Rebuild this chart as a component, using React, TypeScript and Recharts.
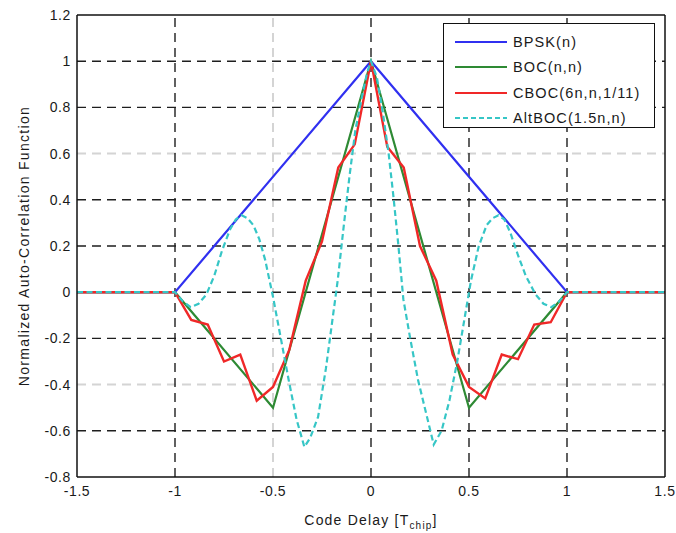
import React from 'react';
import { LineChart, Line, XAxis, YAxis, ReferenceLine, Legend } from 'recharts';

// axis ticks
const xTicks = [-1.5, -1, -0.5, 0, 0.5, 1, 1.5];
const yTicks = [-0.8, -0.6, -0.4, -0.2, 0, 0.2, 0.4, 0.6, 0.8, 1, 1.2];
// dashed grid, two of each come out pale in the original
const gridX = [-1, 0, 0.5, 1];
const paleGridX = [-0.5];
const gridY = [-0.6, -0.2, 0, 0.2, 0.4, 0.8, 1];
const paleGridY = [-0.4, 0.6];

const seriesNames = ['BPSK(n)', 'BOC(n,n)', 'CBOC(6n,n,1/11)', 'AltBOC(1.5n,n)'];

const bpskX = [-1.5, -1, 0, 1, 1.5];
const bpskY = [0, 0, 1, 0, 0];

const bocX = [-1.5, -1, -0.5, 0, 0.5, 1, 1.5];
const bocY = [0, 0, -0.5, 1, -0.5, 0, 0];

const cbocX = [
  -1.5, -1, -0.917, -0.833, -0.75, -0.667, -0.583, -0.5, -0.417, -0.333, -0.25, -0.167, -0.083,
  0, 0.083, 0.167, 0.25, 0.333, 0.417, 0.5, 0.583, 0.667, 0.75, 0.833, 0.917, 1, 1.5,
];
const cbocY = [
  0, 0, -0.12, -0.14, -0.3, -0.27, -0.47, -0.41, -0.25, 0.05, 0.22, 0.54, 0.64,
  1, 0.63, 0.54, 0.2, 0.05, -0.27, -0.41, -0.46, -0.27, -0.29, -0.14, -0.13, 0, 0,
];

const altbocX = [
  -1.5, -1, -0.96, -0.92, -0.88, -0.84, -0.8, -0.76, -0.72, -0.69, -0.66, -0.63, -0.6, -0.57, -0.54,
  -0.5, -0.46, -0.42, -0.38, -0.34, -0.31, -0.27, -0.23, -0.2, -0.17, -0.14, -0.11, -0.08,
  -0.05, -0.02, 0, 0.03, 0.06, 0.09, 0.115, 0.14, 0.165, 0.2, 0.24, 0.28, 0.32, 0.36, 0.4,
  0.44, 0.48, 0.51, 0.55, 0.59, 0.62, 0.65, 0.68, 0.71, 0.75, 0.79, 0.84, 0.88, 0.92, 0.96, 1, 1.5,
];
const altbocY = [
  0, 0, -0.04, -0.065, -0.05, -0.01, 0.07, 0.18, 0.27, 0.315, 0.333, 0.32, 0.29, 0.23, 0.14,
  -0.02, -0.2, -0.38, -0.55, -0.67, -0.63, -0.54, -0.33, -0.14, 0.05, 0.28, 0.5, 0.7,
  0.83, 0.95, 1, 0.93, 0.78, 0.6, 0.41, 0.2, -0.03, -0.2, -0.38, -0.52, -0.66, -0.6, -0.47,
  -0.3, -0.1, 0.05, 0.2, 0.29, 0.32, 0.333, 0.315, 0.26, 0.16, 0.07, -0.01, -0.05, -0.065, -0.04, 0, 0,
];

const toPoints = (xs: number[], ys: number[]) => xs.map((x, i) => ({ x, y: ys[i] }));

const styles = [
  { color: '#3030f0', dash: undefined, width: 2.2 },
  { color: '#2e8a34', dash: undefined, width: 2.2 },
  { color: '#f02828', dash: undefined, width: 2.4 },
  { color: '#36c6c6', dash: '6 3.5', width: 2.2 },
];

const font = 'Liberation Sans, Arial, sans-serif';
const tickStyle = { fontSize: 14, fill: '#1a1a1a', fontFamily: font, letterSpacing: 0.6 };

const LegendBox = () => (
  <div
    style={{
      border: '1.5px solid #111',
      background: '#fff',
      width: 212,
      height: 105,
      boxSizing: 'border-box',
      paddingTop: 5,
      fontFamily: font,
    }}
  >
    {seriesNames.map((name, i) => (
      <div key={name} style={{ display: 'flex', alignItems: 'center', height: 25.5 }}>
        <svg width={66} height={10} style={{ marginLeft: 11 }}>
          <line
            x1={0}
            x2={52}
            y1={5}
            y2={5}
            stroke={styles[i].color}
            strokeWidth={2.2}
            strokeDasharray={styles[i].dash ? '5 3' : undefined}
          />
        </svg>
        <span style={{ fontSize: 14.5, letterSpacing: 1.1, color: '#1a1a1a', marginLeft: -8 }}>{name}</span>
      </div>
    ))}
  </div>
);

const XLabel = ({ viewBox }: any) => (
  <text
    x={viewBox.x + viewBox.width / 2}
    y={viewBox.y + 48}
    textAnchor="middle"
    fontSize={14}
    fontFamily={font}
    fill="#1a1a1a"
    letterSpacing={1.2}
  >
    <tspan>Code Delay [T</tspan>
    <tspan dy={4} fontSize={10}>chip</tspan>
    <tspan dy={-4}>]</tspan>
  </text>
);

const YLabel = ({ viewBox }: any) => {
  const cx = 24;
  const cy = viewBox.y + viewBox.height / 2;
  return (
    <text
      x={cx}
      y={cy}
      transform={`rotate(-90 ${cx} ${cy})`}
      textAnchor="middle"
      dominantBaseline="central"
      fontSize={14}
      fontFamily={font}
      fill="#1a1a1a"
      letterSpacing={1.3}
    >
      Normalized Auto-Correlation Function
    </text>
  );
};

const frameAxis = { axisLine: { stroke: '#111', strokeWidth: 1.5 }, tickLine: { stroke: '#111', strokeWidth: 1.3 } };

export default function App() {
  const allData = [
    toPoints(bpskX, bpskY),
    toPoints(bocX, bocY),
    toPoints(cbocX, cbocY),
    toPoints(altbocX, altbocY),
  ];

  return (
    <div style={{ position: 'absolute', left: 0, top: 0, background: '#fff' }}>
      <LineChart width={676} height={533} margin={{ top: 15, right: 11, bottom: 0, left: 0 }}>
        <XAxis
          type="number"
          dataKey="x"
          domain={[-1.5, 1.5]}
          ticks={xTicks}
          allowDataOverflow
          height={56}
          tickLine={false}
          axisLine={false}
          tickSize={0}
          tickMargin={9}
          tick={tickStyle}
          label={<XLabel />}
        />
        <YAxis
          type="number"
          dataKey="y"
          domain={[-0.8, 1.2]}
          ticks={yTicks}
          allowDataOverflow
          width={77}
          tickLine={false}
          axisLine={false}
          tickSize={0}
          tickMargin={6}
          tick={tickStyle}
          label={<YLabel />}
        />
        {/* inward ticks and frame on all four sides */}
        <XAxis xAxisId="b" type="number" domain={[-1.5, 1.5]} ticks={xTicks} mirror tick={false} tickSize={7} {...frameAxis} />
        <XAxis xAxisId="t" orientation="top" type="number" domain={[-1.5, 1.5]} ticks={xTicks} mirror tick={false} tickSize={7} {...frameAxis} />
        <YAxis yAxisId="l" type="number" domain={[-0.8, 1.2]} ticks={yTicks} mirror tick={false} tickSize={7} {...frameAxis} />
        <YAxis yAxisId="r" orientation="right" type="number" domain={[-0.8, 1.2]} ticks={yTicks} mirror tick={false} tickSize={7} {...frameAxis} />

        {paleGridX.map((v) => (
          <ReferenceLine key={`px${v}`} x={v} stroke="#d4d4d4" strokeWidth={2} strokeDasharray="9 6" />
        ))}
        {paleGridY.map((v) => (
          <ReferenceLine key={`py${v}`} y={v} stroke="#d4d4d4" strokeWidth={2} strokeDasharray="9 6" />
        ))}
        {gridX.map((v) => (
          <ReferenceLine key={`gx${v}`} x={v} stroke="#1e1e1e" strokeWidth={1.4} strokeDasharray="9 6" />
        ))}
        {gridY.map((v) => (
          <ReferenceLine key={`gy${v}`} y={v} stroke="#1e1e1e" strokeWidth={1.4} strokeDasharray="9 6" />
        ))}

        {allData.map((d, i) => (
          <Line
            key={seriesNames[i]}
            data={d}
            dataKey="y"
            name={seriesNames[i]}
            type="linear"
            stroke={styles[i].color}
            strokeWidth={styles[i].width}
            strokeDasharray={styles[i].dash}
            dot={false}
            activeDot={false}
            isAnimationActive={false}
          />
        ))}

        <Legend
          layout="horizontal"
          verticalAlign="middle"
          align="center"
          content={<LegendBox />}
          wrapperStyle={{ position: 'absolute', left: 443, top: 23, width: 212, height: 105 }}
        />
      </LineChart>
    </div>
  );
}
